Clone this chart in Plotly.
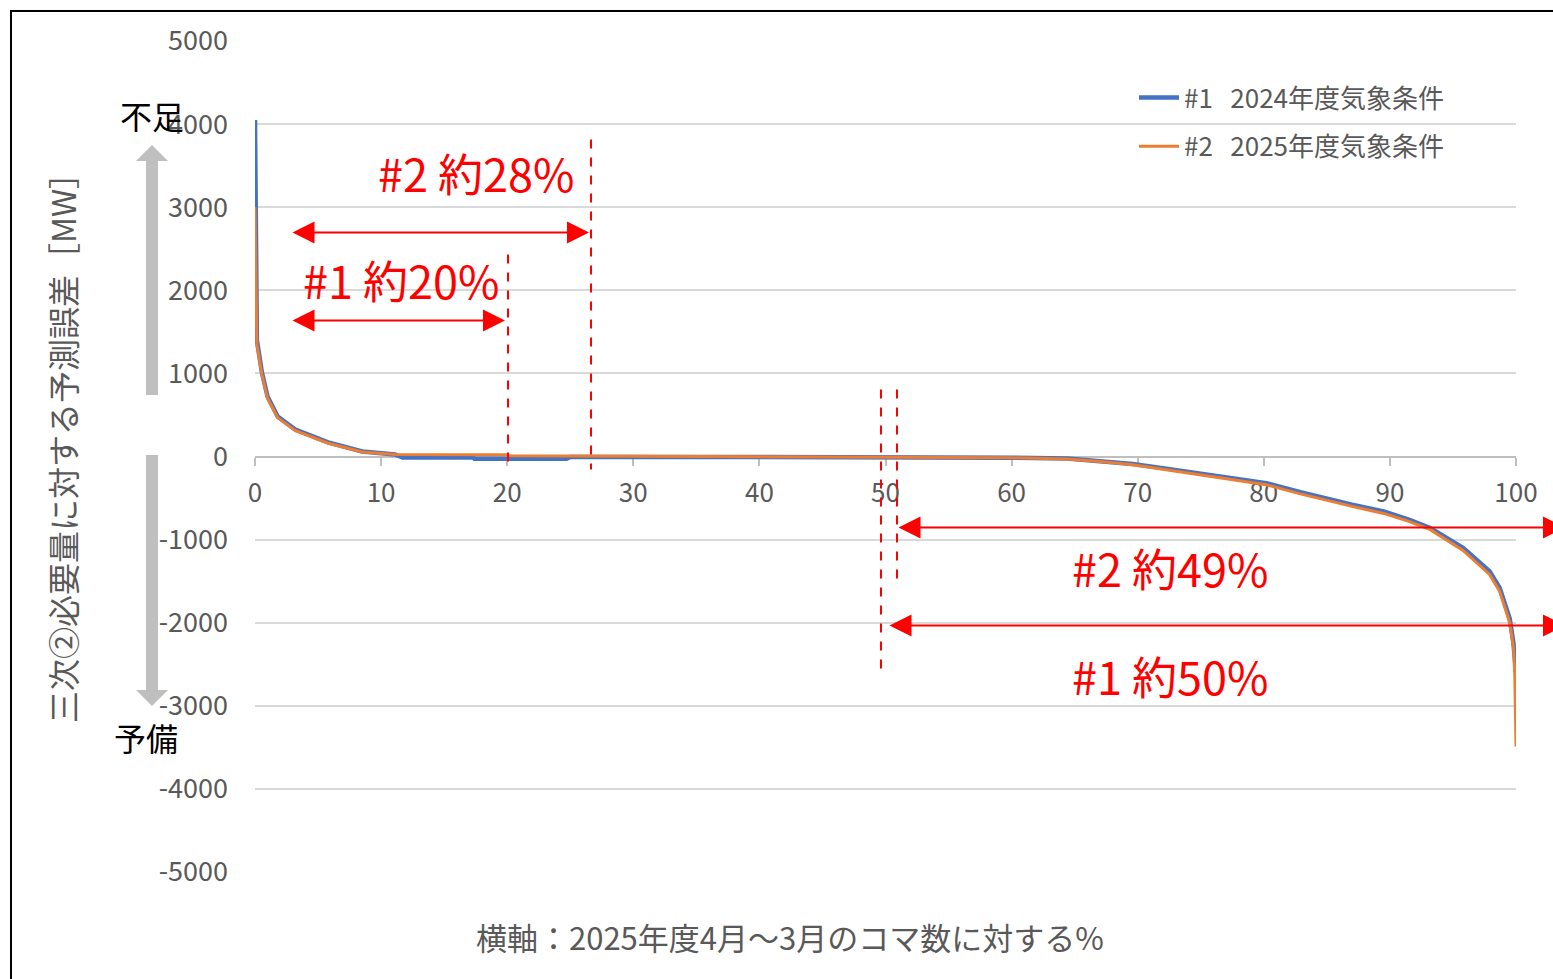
import plotly.graph_objects as go

# ---- data ----
x1 = [0, 0.15, 0.55, 1.0, 1.8, 3.2, 5.8, 8.5, 11.1, 11.7, 17.3, 17.4, 24.7, 25, 40, 55, 60,
      64.4, 67, 69.6, 72, 74.9, 77, 78.9, 80.2, 82.9, 84.2, 87, 89.5, 91.5, 93.2, 95.8,
      97.9, 98.7, 99.5, 99.8, 100]
y1 = [4050, 1400, 1010, 720, 480, 325, 170, 60, 24, -12, -12, -28, -28, -5, -5, -8, -15,
      -25, -55, -90, -140, -200, -250, -290, -320, -430, -480, -580, -660, -760, -860, -1100,
      -1380, -1580, -1950, -2250, -2600]

x2 = [0, 0.15, 0.55, 1.0, 1.8, 3.2, 5.8, 8.5, 11.1, 20, 20.1, 25, 26, 40, 55, 60,
      64.4, 67, 69.6, 72, 74.9, 77, 78.9, 80.2, 82.9, 84.2, 87, 89.5, 91.5, 93.2, 95.8,
      97.9, 98.7, 99.5, 99.8, 99.9, 100]
y2 = [3000, 1350, 980, 700, 465, 310, 160, 55, 24, 20, 10, 8, 0, 0, -5, -15,
      -30, -60, -100, -155, -220, -270, -310, -340, -450, -500, -600, -685, -780, -880, -1130,
      -1420, -1620, -2000, -2300, -2600, -3490]

series_names = ["#1\u00a0\u00a0 2024年度気象条件", "#2\u00a0\u00a0 2025年度気象条件"]
series_colors = ["#4472C4", "#ED7D31"]

y_tickvals = [5000, 4000, 3000, 2000, 1000, 0, -1000, -2000, -3000, -4000, -5000]
y_ticktext = ["5000", "4000", "3000", "2000", "1000", "0", "-1000", "-2000", "-3000", "-4000", "-5000"]
x_tickvals = [0, 10, 20, 30, 40, 50, 60, 70, 80, 90, 100]

y_title = "三次②必要量に対する予測誤差［MW］"
x_title = "横軸：2025年度4月～3月のコマ数に対する%"

share_labels = ["#2 約28%", "#1 約20%", "#2 約49%", "#1 約50%"]

FONT = "Noto Sans CJK JP, Noto Sans, sans-serif"
GREY = "#595959"

# ---- layout geometry ----
W, H = 1553, 979
L, R, T, B = 255, 1516, 41, 872


def px(xp):
    return (xp - L) / (R - L)


def py(yp):
    return (B - yp) / (B - T)


def dx(xp):
    return (xp - L) / (R - L) * 100


def dy(yp):
    return (457 - yp) * 10000 / (B - T)


fig = go.Figure()
fig.add_trace(go.Scatter(x=x1, y=y1, mode="lines", name=series_names[0],
                         line=dict(color=series_colors[0], width=4.5), legendgroup="a"))
fig.add_trace(go.Scatter(x=x2, y=y2, mode="lines", name=series_names[1],
                         line=dict(color=series_colors[1], width=3), legendgroup="b"))

fig.update_layout(
    width=W, height=H,
    margin=dict(l=L, r=W - R, t=T, b=H - B),
    plot_bgcolor="white", paper_bgcolor="white",
    font=dict(family=FONT, color=GREY, size=22),
    showlegend=True,
    legend=dict(x=px(1134), y=py(74), xanchor="left", yanchor="top",
                font=dict(size=26, color=GREY), bgcolor="rgba(0,0,0,0)",
                tracegroupgap=12, traceorder="grouped", itemwidth=40),
    xaxis=dict(range=[0, 100], tickvals=x_tickvals, showgrid=False, zeroline=False,
               anchor="free", position=0.5, showline=True, linecolor="#BFBFBF", linewidth=2,
               ticks="outside", ticklen=8, tickcolor="#BFBFBF", tickwidth=1.5,
               ticklabelstandoff=5, tickfont=dict(size=26, color=GREY),
               layer="below traces"),
    yaxis=dict(range=[-5000, 5000], tickvals=y_tickvals, ticktext=y_ticktext,
               showgrid=True, gridcolor="#D9D9D9", gridwidth=1.5, zeroline=False,
               showline=False, ticks="", ticklabelstandoff=26,
               tickfont=dict(size=27, color=GREY), domain=[0, 1]),
)

red = "#FF0000"
shapes = []
# outer border
shapes.append(dict(type="rect", xref="paper", yref="paper", x0=px(11), x1=px(1570), y0=py(995), y1=py(11),
                   line=dict(color="black", width=2), fillcolor="rgba(0,0,0,0)", layer="above"))
# dashed red verticals
for xp, ytop, ybot in [(591, 140, 470), (508, 255, 470), (881, 390, 672), (897, 390, 583)]:
    shapes.append(dict(type="line", xref="x", yref="y", x0=dx(xp), x1=dx(xp), y0=dy(ytop), y1=dy(ybot),
                       line=dict(color=red, width=2, dash="dash")))


# grey direction arrows (paper coords)
def arrow_path(xc, y_tail, y_tip, shaft=12, head_w=32, head_h=16):
    d = 1 if y_tip < y_tail else -1
    yb = y_tip + d * head_h
    pts = [(xc - shaft / 2, y_tail), (xc - shaft / 2, yb), (xc - head_w / 2, yb), (xc, y_tip),
           (xc + head_w / 2, yb), (xc + shaft / 2, yb), (xc + shaft / 2, y_tail)]
    return "M " + " L ".join(f"{px(a):.5f},{py(b):.5f}" for a, b in pts) + " Z"


for tail, tip in [(395, 145), (455, 706)]:
    shapes.append(dict(type="path", xref="paper", yref="paper", path=arrow_path(152, tail, tip),
                       fillcolor="#BFBFBF", line=dict(width=0)))
fig.update_layout(shapes=shapes)

ann = []
# red double arrows
for xa, xb, yp in [(291, 589, 233), (291, 505, 321), (897, 1565, 528), (888, 1565, 626)]:
    ann.append(dict(x=dx(xb), y=dy(yp), ax=dx(xa), ay=dy(yp), xref="x", yref="y", axref="x", ayref="y",
                    text="", showarrow=True, arrowhead=2, startarrowhead=2, arrowside="end+start",
                    arrowsize=2.2, startarrowsize=2.2, arrowwidth=2, arrowcolor=red))
# red labels
for lab, xp, yp in zip(share_labels, [476, 401, 1170, 1170], [173, 280, 568, 676]):
    ann.append(dict(x=dx(xp), y=dy(yp), xref="x", yref="y", text=lab, showarrow=False,
                    font=dict(size=45, color=red, family=FONT), xanchor="center", yanchor="middle"))
# 不足 / 予備
ann.append(dict(x=px(152), y=py(115), xref="paper", yref="paper", text="不足", showarrow=False,
                xanchor="center", yanchor="middle",
                font=dict(size=32, color="black", family=FONT)))
ann.append(dict(x=px(146), y=py(737), xref="paper", yref="paper", text="予備", showarrow=False,
                xanchor="center", yanchor="middle",
                font=dict(size=32, color="black", family=FONT)))
# axis titles
ann.append(dict(x=px(62), y=py(440), xref="paper", yref="paper", text=y_title, showarrow=False,
                xanchor="center", yanchor="middle",
                textangle=-90, font=dict(size=32, color=GREY, family=FONT)))
ann.append(dict(x=px(790), y=py(936), xref="paper", yref="paper", text=x_title, showarrow=False,
                xanchor="center", yanchor="middle",
                font=dict(size=31, color=GREY, family=FONT)))
fig.update_layout(annotations=ann)

fig.write_html("out.html", config={"displayModeBar": False},
               post_script="document.body.style.margin='0';")
